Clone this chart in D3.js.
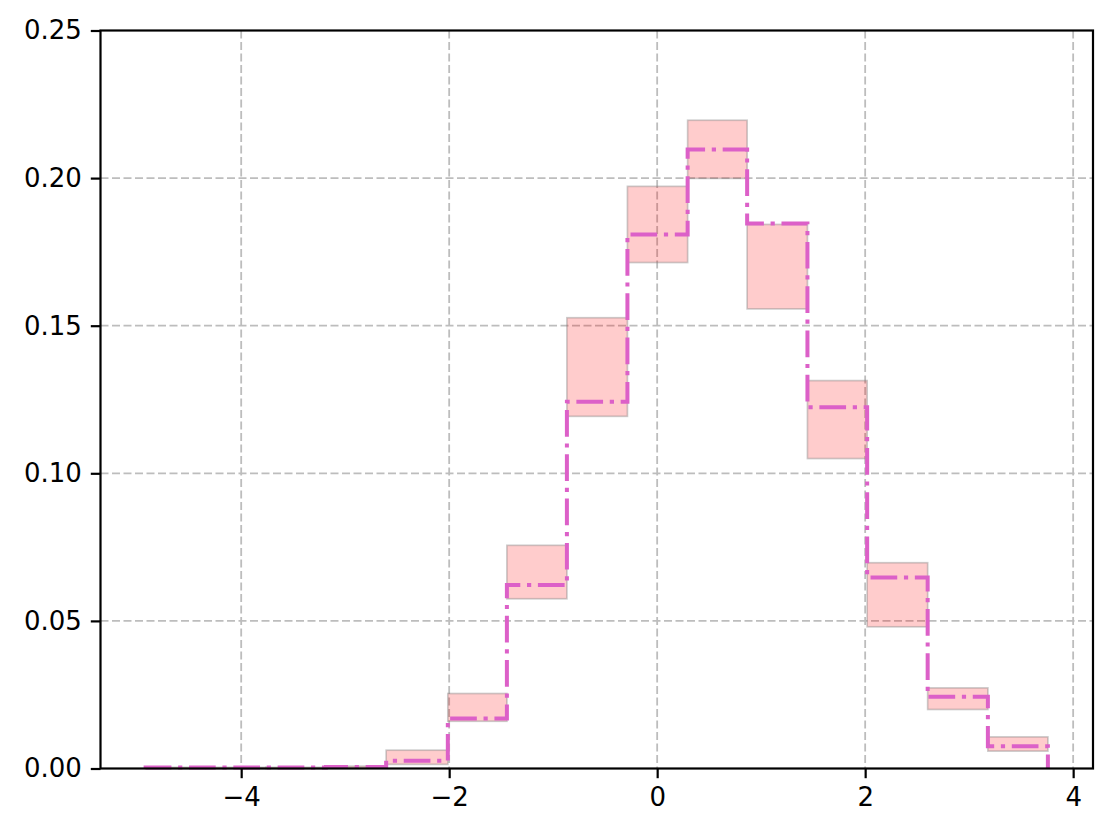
<!DOCTYPE html>
<html>
<head>
<meta charset="utf-8">
<script src="https://cdn.jsdelivr.net/npm/d3@7"></script>
<style>
    html, body { margin: 0; padding: 0; background: #fff; }
    #chart { width: 1114px; height: 837px; }
    text { font-family: "DejaVu Sans", sans-serif; }
</style>
</head>
<body>
<div id="chart"></div>
<script>
'use strict';

/* histogram bins: 16 edges, 15 bins */
const binEdges = [-4.919, -4.341, -3.762, -3.184, -2.606, -2.013, -1.445, -0.868,
    -0.286, 0.293, 0.865, 1.445, 2.019, 2.601, 3.180, 3.757];

// step line value per bin
const binValues = [0.0003, 0.0003, 0.0003, 0.0005, 0.0026, 0.0169, 0.0622, 0.1242,
    0.1809, 0.2097, 0.1846, 0.1224, 0.0647, 0.0243, 0.0075];

// shaded band per bin (lower / upper)
const bandLower = [0.0000, 0.0000, 0.0000, 0.0002, 0.0014, 0.0160, 0.0575, 0.1193,
    0.1714, 0.1999, 0.1557, 0.1050, 0.0480, 0.0200, 0.0059];
const bandUpper = [0.0004, 0.0004, 0.0004, 0.0008, 0.0062, 0.0254, 0.0756, 0.1527,
    0.1972, 0.2196, 0.1843, 0.1314, 0.0697, 0.0273, 0.0107];

const xTicks = [-4, -2, 0, 2, 4];
const yTicks = [0.00, 0.05, 0.10, 0.15, 0.20, 0.25];

const WIDTH = 1114, HEIGHT = 837;
const margin = { top: 30.5, right: 21, bottom: 68.5, left: 100.5 };

const svg = d3.select("#chart").append("svg")
    .attr("width", WIDTH)
    .attr("height", HEIGHT);

const g = svg.append("g")
    .attr("transform", `translate(${margin.left},${margin.top})`);

const w = WIDTH - margin.left - margin.right;
const h = HEIGHT - margin.top - margin.bottom;

// matplotlib style 5% x margin
const xPad = 0.05 * (binEdges[binEdges.length - 1] - binEdges[0]);
const x = d3.scaleLinear()
    .domain([binEdges[0] - xPad, binEdges[binEdges.length - 1] + xPad])
    .range([0, w]);
const y = d3.scaleLinear().domain([0, 0.25]).range([h, 0]);

/* grid */
const grid = g.append("g").attr("class", "grid")
    .attr("stroke", "#bdbdbd")
    .attr("stroke-width", 1.8)
    .attr("stroke-dasharray", "8,3.5");
grid.selectAll("line.gx").data(xTicks).join("line")
    .attr("class", "gx")
    .attr("x1", d => x(d)).attr("x2", d => x(d))
    .attr("y1", 0).attr("y2", h);
grid.selectAll("line.gy").data(yTicks.slice(1, -1)).join("line")
    .attr("class", "gy")
    .attr("x1", 0).attr("x2", w)
    .attr("y1", d => y(d)).attr("y2", d => y(d));

/* shaded bands */
const bins = binValues.map((v, i) => ({
    x0: binEdges[i], x1: binEdges[i + 1], v: v, lo: bandLower[i], hi: bandUpper[i]
}));

g.append("g").selectAll("rect").data(bins).join("rect")
    .attr("x", d => x(d.x0))
    .attr("width", d => x(d.x1) - x(d.x0))
    .attr("y", d => y(d.hi))
    .attr("height", d => Math.max(0, y(d.lo) - y(d.hi)))
    .attr("fill", "rgba(255,0,0,0.2)")
    .attr("stroke", "rgba(128,128,128,0.4)")
    .attr("stroke-width", 1.7);

/* step line, closed to the baseline at both ends */
const pts = [[binEdges[0], 0]];
bins.forEach(d => {
    pts.push([d.x0, d.v]);
    pts.push([d.x1, d.v]);
});
pts.push([binEdges[binEdges.length - 1], 0]);

g.append("path")
    .datum(pts)
    .attr("fill", "none")
    .attr("stroke", "#dc60c8")
    .attr("stroke-width", 4)
    .attr("stroke-dasharray", "26.7,6.7,4.2,6.7")
    .attr("d", d3.line().x(d => x(d[0])).y(d => y(d[1])));

/* axes */
const xAxis = g.append("g")
    .attr("transform", `translate(0,${h})`)
    .call(d3.axisBottom(x).tickValues(xTicks)
        .tickFormat(d => d < 0 ? "\u2212" + Math.abs(d) : d)
        .tickSizeInner(9.7).tickSizeOuter(0).tickPadding(9));
const yAxis = g.append("g")
    .call(d3.axisLeft(y).tickValues(yTicks)
        .tickFormat(d3.format(".2f"))
        .tickSizeInner(9.7).tickSizeOuter(0).tickPadding(9));

[xAxis, yAxis].forEach(a => {
    a.select(".domain").remove();
    a.selectAll(".tick line").attr("stroke", "#000").attr("stroke-width", 2.2);
    a.selectAll(".tick text")
        .attr("fill", "#000")
        .style("font-size", "26px")
        .style("font-family", "'DejaVu Sans', sans-serif");
});

// frame
g.append("rect")
    .attr("width", w).attr("height", h)
    .attr("fill", "none")
    .attr("stroke", "#000")
    .attr("stroke-width", 2.2);
</script>
</body>
</html>
